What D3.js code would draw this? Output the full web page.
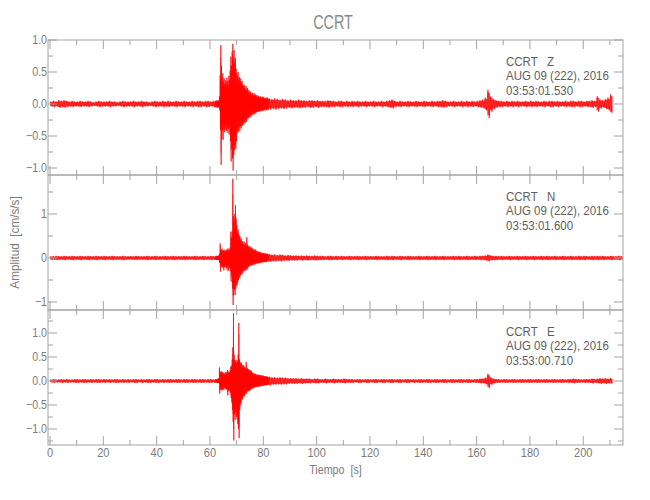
<!DOCTYPE html>
<html><head><meta charset="utf-8">
<script src="https://cdn.jsdelivr.net/npm/d3@7"></script>
<style>
html,body{margin:0;padding:0;background:#fff;}
svg text{font-family:"Liberation Sans","Arial",sans-serif;}
</style></head><body>
<svg id="c" width="650" height="500"></svg>
<script>
// ---------------- DATA ----------------
const stationName = "CCRT";
const components = ["Z", "N", "E"];
const dateLabel = "AUG 09 (222), 2016";
const startTimes = ["03:53:01.530", "03:53:01.600", "03:53:00.710"];
const xTickLabels = [0, 20, 40, 60, 80, 100, 120, 140, 160, 180, 200];
const xMinorTicks = [10, 30, 50, 70, 90, 110, 130, 150, 170, 190, 210];
const yTicksZ = [-1.0, -0.5, 0.0, 0.5, 1.0];
const yMinorZ = [-0.75, -0.25, 0.25, 0.75];
const yTicksN = [-1, 0, 1];
const yMinorN = [-0.5, 0.5, 1.5];
const yTicksE = [-1.0, -0.5, 0.0, 0.5, 1.0];
const yMinorE = [-1.25, -0.75, -0.25, 0.25, 0.75, 1.25];

// Envelope of each trace. Pre / post event: peak amplitude per 1 s bin (starting at 0 s and 82 s).
// Event (62-82 s): max / min per 0.25 s bin, one row = 2 s.
const zPre = [
 .04,.05,.04,.06,.05,.06,.05,.04,.05,.04,
 .04,.05,.04,.04,.05,.04,.03,.04,.05,.04,
 .04,.04,.05,.04,.04,.03,.04,.05,.04,.04,
 .04,.05,.04,.04,.05,.04,.04,.03,.04,.05,
 .04,.04,.05,.04,.05,.04,.04,.05,.04,.04,
 .05,.04,.04,.05,.04,.05,.05,.04,.05,.05,
 .04,.05];
const zEvtHi = [
 .05,.04,.06,.05,.05,.06,.12,.45,
 .92,.60,.42,.48,.35,.40,.30,.37,
 .33,.41,.36,.30,.44,.38,.52,.74,
 .60,.82,.94,.70,.84,.63,.72,.55,
 .48,.44,.50,.38,.42,.36,.40,.33,
 .36,.30,.28,.30,.27,.24,.28,.22,
 .25,.20,.22,.18,.20,.17,.15,.18,
 .16,.14,.17,.13,.15,.12,.14,.11,
 .13,.12,.10,.12,.11,.09,.12,.10,
 .11,.09,.10,.08,.10,.09,.10,.08];
const zEvtLo = [
 -.05,-.05,-.04,-.06,-.05,-.05,-.10,-.40,
 -.95,-.55,-.41,-.56,-.38,-.44,-.35,-.40,
 -.42,-.36,-.45,-.38,-.48,-.40,-.58,-.90,
 -.70,-.85,-1.04,-.80,-.72,-.65,-.70,-.58,
 -.46,-.40,-.44,-.36,-.42,-.35,-.38,-.33,
 -.34,-.30,-.32,-.28,-.30,-.25,-.28,-.22,
 -.24,-.20,-.22,-.19,-.20,-.17,-.18,-.15,
 -.17,-.14,-.16,-.13,-.15,-.12,-.13,-.12,
 -.12,-.11,-.12,-.10,-.11,-.10,-.11,-.09,
 -.10,-.09,-.10,-.08,-.09,-.10,-.08,-.09];
const zPost = [
 .09,.08,.09,.08,.07,.08,.07,.06,.07,.06,
 .06,.07,.06,.06,.05,.06,.06,.05,.06,.05,
 .05,.05,.06,.05,.05,.04,.05,.05,.04,.05,
 .04,.05,.04,.05,.04,.04,.05,.04,.04,.05,
 .04,.04,.05,.04,.05,.06,.07,.05,.04,.05,
 .04,.04,.05,.04,.04,.05,.04,.04,.05,.04,
 .04,.05,.04,.05,.05,.06,.05,.04,.04,.05,
 .04,.04,.05,.04,.05,.04,.05,.04,.05,.06,
 .07,.10,.22,.12,.08,.06,.05,.05,.04,.05,
 .04,.05,.04,.05,.04,.04,.05,.04,.05,.04,
 .05,.04,.04,.05,.04,.05,.05,.04,.05,.04,
 .04,.05,.04,.05,.05,.04,.05,.05,.04,.05,
 .05,.06,.05,.12,.07,.06,.08,.10,.15];

const nPre = [
 .04,.04,.05,.04,.04,.05,.04,.04,.05,.04,
 .04,.05,.04,.04,.05,.04,.04,.05,.04,.04,
 .05,.04,.04,.05,.04,.04,.04,.05,.04,.04,
 .04,.04,.05,.04,.04,.04,.05,.04,.04,.05,
 .04,.04,.04,.05,.04,.04,.05,.04,.04,.04,
 .05,.04,.04,.04,.05,.04,.04,.05,.04,.04,
 .05,.04];
const nEvtHi = [
 .04,.05,.04,.05,.04,.06,.10,.33,
 .20,.18,.21,.16,.18,.15,.19,.17,
 .16,.20,.18,.22,.17,.19,.24,.60,
 .45,.60,1.80,.95,.85,1.00,1.20,.90,
 .75,.60,.65,.55,.50,.48,.40,.44,
 .36,.38,.32,.37,.30,.34,.28,.47,
 .30,.26,.28,.24,.26,.22,.24,.20,
 .22,.18,.20,.17,.19,.15,.17,.14,
 .15,.13,.14,.12,.13,.11,.12,.10,
 .11,.10,.11,.09,.10,.09,.10,.08];
const nEvtLo = [
 -.04,-.04,-.05,-.04,-.05,-.04,-.12,-.31,
 -.20,-.18,-.22,-.19,-.28,-.20,-.22,-.18,
 -.22,-.28,-.20,-.29,-.24,-.21,-.30,-.54,
 -.40,-.70,-1.07,-.84,-.72,-.84,-.70,-.62,
 -.62,-.55,-.50,-.45,-.46,-.40,-.38,-.35,
 -.35,-.30,-.27,-.30,-.26,-.28,-.24,-.27,
 -.22,-.20,-.19,-.18,-.17,-.16,-.18,-.15,
 -.16,-.14,-.15,-.13,-.14,-.12,-.13,-.11,
 -.12,-.11,-.12,-.10,-.11,-.10,-.10,-.09,
 -.10,-.09,-.09,-.08,-.09,-.08,-.08,-.07];
const nPost = [
 .09,.08,.08,.07,.08,.07,.06,.07,.06,.06,
 .06,.05,.06,.05,.06,.05,.05,.06,.05,.05,
 .05,.04,.05,.05,.04,.05,.04,.05,.04,.04,
 .05,.04,.04,.05,.04,.04,.05,.04,.04,.04,
 .05,.04,.04,.04,.05,.04,.05,.04,.04,.05,
 .04,.04,.05,.04,.04,.04,.05,.04,.04,.05,
 .04,.04,.05,.04,.04,.05,.04,.04,.04,.05,
 .04,.05,.04,.04,.05,.04,.04,.05,.04,.05,
 .05,.06,.08,.06,.05,.05,.04,.05,.04,.04,
 .05,.04,.04,.05,.04,.04,.05,.04,.04,.05,
 .04,.04,.05,.04,.05,.04,.04,.05,.04,.04,
 .05,.04,.04,.05,.04,.04,.05,.04,.05,.04,
 .04,.05,.04,.05,.04,.05,.04,.04,.05,.04,
 .04,.05,.04];

const ePre = [
 .03,.04,.03,.03,.04,.03,.04,.03,.03,.04,
 .04,.03,.04,.04,.03,.04,.03,.04,.04,.03,
 .04,.03,.04,.03,.04,.04,.03,.04,.03,.04,
 .03,.04,.04,.03,.04,.03,.04,.04,.03,.04,
 .04,.03,.04,.03,.04,.04,.03,.04,.04,.03,
 .04,.04,.03,.04,.04,.03,.04,.04,.03,.04,
 .04,.03];
const eEvtHi = [
 .04,.03,.04,.04,.05,.06,.28,.20,
 .18,.20,.16,.19,.15,.17,.14,.18,
 .16,.19,.23,.17,.20,.18,.22,.30,
 .32,.45,.70,1.41,.55,.44,.40,.44,
 .38,.42,.55,1.21,.45,.40,.36,.38,
 .34,.30,.33,.28,.30,.26,.40,.28,
 .26,.24,.25,.22,.23,.20,.21,.18,
 .17,.15,.16,.14,.15,.13,.14,.12,
 .13,.12,.13,.11,.12,.11,.12,.10,
 .11,.10,.10,.09,.10,.09,.09,.08];
const eEvtLo = [
 -.04,-.03,-.04,-.04,-.04,-.05,-.26,-.18,
 -.16,-.20,-.18,-.15,-.19,-.14,-.17,-.15,
 -.18,-.16,-.30,-.20,-.22,-.19,-.25,-.35,
 -.45,-.60,-.85,-1.24,-.70,-.81,-.65,-.75,
 -.80,-.90,-1.00,-1.19,-.60,-.50,-.45,-.40,
 -.38,-.33,-.30,-.32,-.28,-.25,-.27,-.22,
 -.22,-.20,-.21,-.18,-.19,-.16,-.17,-.15,
 -.15,-.13,-.14,-.12,-.13,-.12,-.12,-.11,
 -.12,-.11,-.11,-.10,-.11,-.10,-.10,-.09,
 -.10,-.09,-.09,-.08,-.09,-.08,-.08,-.08];
const ePost = [
 .09,.08,.08,.07,.08,.07,.07,.06,.06,.06,
 .06,.05,.06,.05,.05,.05,.04,.05,.05,.04,
 .04,.05,.04,.04,.05,.04,.04,.04,.05,.04,
 .04,.04,.03,.04,.04,.03,.04,.04,.03,.04,
 .04,.03,.04,.04,.03,.04,.04,.03,.04,.04,
 .03,.04,.04,.03,.04,.03,.04,.04,.03,.04,
 .04,.03,.04,.04,.03,.04,.04,.03,.04,.04,
 .03,.04,.04,.03,.04,.04,.03,.04,.04,.05,
 .05,.07,.15,.08,.05,.04,.04,.03,.04,.04,
 .03,.04,.04,.03,.04,.04,.03,.04,.04,.03,
 .04,.04,.03,.04,.04,.03,.04,.04,.03,.04,
 .04,.03,.04,.04,.05,.04,.04,.03,.04,.04,
 .04,.05,.04,.05,.06,.05,.06,.05,.06];

// ---------------- LAYOUT ----------------
const svg = d3.select("#c");
const left = 48, right = 623;
const panelTops = [40, 175, 310], panelH = 135;
const x = d3.scaleLinear().domain([-0.75, 214.9]).range([left, right]);
const axisColor = "#a3a3a3", labelColor = "#7c7c7c", noteColor = "#5e5e5e";
const fmt1 = d3.format(".1f"), fmt0 = d3.format("d");

// narrow text helper (horizontal compression to mimic the plotting font)
function addText(parent, px, py, str, o) {
  const g = parent.append("g")
    .attr("transform", `translate(${px},${py})${o.rot ? ` rotate(${o.rot})` : ""} scale(${o.sx || 0.82},1)`);
  return g.append("text").attr("x", 0).attr("y", 0)
    .attr("text-anchor", o.anchor || "start").attr("dy", o.dy || null)
    .attr("font-size", o.size).attr("fill", o.fill).style("white-space", "pre").text(str);
}

const panels = [
  {pre: zPre, hi: zEvtHi, lo: zEvtLo, post: zPost, dom: [-1.109, 1.0], ticks: yTicksZ, minor: yMinorZ, fmt: fmt1},
  {pre: nPre, hi: nEvtHi, lo: nEvtLo, post: nPost, dom: [-1.182, 1.886], ticks: yTicksN, minor: yMinorN, fmt: fmt0},
  {pre: ePre, hi: eEvtHi, lo: eEvtLo, post: ePost, dom: [-1.333, 1.479], ticks: yTicksE, minor: yMinorE, fmt: fmt1}
];

function binList(p) {
  const b = [];
  p.pre.forEach((a, i) => b.push({t: i, w: 1, hi: a, lo: -a}));
  p.hi.forEach((h, k) => b.push({t: 62 + k * 0.25, w: 0.25, hi: h, lo: p.lo[k]}));
  p.post.forEach((a, i) => b.push({t: 82 + i, w: 1, hi: a, lo: -a}));
  return b;
}

panels.forEach((p, pi) => {
  const top = panelTops[pi], bot = top + panelH;
  const y = d3.scaleLinear().domain(p.dom).range([bot, top]);
  const g = svg.append("g");
  const cid = "clip" + pi;
  svg.append("clipPath").attr("id", cid).append("rect")
    .attr("x", left).attr("y", top).attr("width", right - left).attr("height", panelH);

  const b = binList(p);
  // envelope band
  const areaPts = [];
  b.forEach(d => { areaPts.push({t: d.t, hi: d.hi, lo: d.lo}); areaPts.push({t: d.t + d.w, hi: d.hi, lo: d.lo}); });
  const area = d3.area().x(d => x(d.t)).y0(d => y(d.lo * 0.8)).y1(d => y(d.hi * 0.8));
  g.append("path").datum(areaPts).attr("d", area).attr("clip-path", `url(#${cid})`)
    .attr("fill", "#ff0000").attr("fill-opacity", 0.75);
  // trace (max/min per bin)
  const pts = [];
  b.forEach(d => { pts.push([d.t + d.w * 0.25, d.hi]); pts.push([d.t + d.w * 0.75, d.lo]); });
  const line = d3.line().x(d => x(d[0])).y(d => y(d[1]));
  g.append("path").datum(pts).attr("d", line)
    .attr("clip-path", `url(#${cid})`)
    .attr("fill", "none").attr("stroke", "#ff0000").attr("stroke-width", 0.8).attr("stroke-opacity", 0.85);

  // frame
  g.append("rect").attr("x", left).attr("y", top).attr("width", right - left).attr("height", panelH)
    .attr("fill", "none").attr("stroke", axisColor).attr("stroke-width", 1);

  // y ticks (left & right, inward)
  const yT = [...p.ticks.map(v => [v, 9]), ...p.minor.map(v => [v, 5])];
  yT.forEach(([v, L]) => {
    g.append("line").attr("x1", left).attr("x2", left + L).attr("y1", y(v)).attr("y2", y(v)).attr("stroke", axisColor);
    g.append("line").attr("x1", right).attr("x2", right - L).attr("y1", y(v)).attr("y2", y(v)).attr("stroke", axisColor);
  });
  p.ticks.forEach(v => {
    addText(g, left - 1, y(v), p.fmt(v), {anchor: "end", dy: "0.35em", size: 12.5, fill: labelColor, sx: 0.85});
  });

  // x ticks (top & bottom, inward)
  const xT = [...xTickLabels.map(v => [v, 9]), ...xMinorTicks.map(v => [v, 5])];
  xT.forEach(([v, L]) => {
    g.append("line").attr("x1", x(v)).attr("x2", x(v)).attr("y1", top).attr("y2", top + L).attr("stroke", axisColor);
    g.append("line").attr("x1", x(v)).attr("x2", x(v)).attr("y1", bot).attr("y2", bot - L).attr("stroke", axisColor);
  });

  // annotation
  [`${stationName}   ${components[pi]}`, dateLabel, startTimes[pi]].forEach((s, li) => {
    addText(g, 506, top + 26 + li * 14.4, s, {size: 12.5, fill: noteColor, sx: 0.92});
  });
});

// x tick labels (bottom panel only)
xTickLabels.forEach(v => {
  addText(svg, x(v), 457, String(v), {anchor: "middle", size: 13, fill: labelColor, sx: 0.85});
});

// titles
addText(svg, 333, 29, stationName, {anchor: "middle", size: 20, fill: "#8a8a8a", sx: 0.72});
addText(svg, (left + right) / 2, 474, "Tiempo  [s]", {anchor: "middle", size: 12.5, fill: labelColor, sx: 0.86});
addText(svg, 19, (panelTops[0] + panelTops[2] + panelH) / 2, "Amplitud  [cm/s/s]",
  {anchor: "middle", size: 13, fill: labelColor, sx: 0.9, rot: -90});
</script>
</body></html>
